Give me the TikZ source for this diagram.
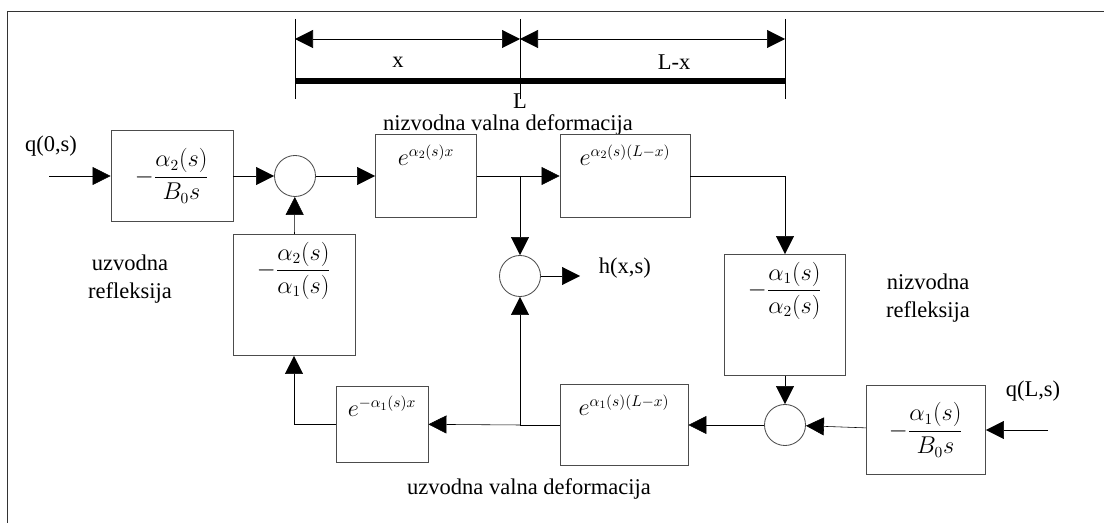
\documentclass[tikz,border=0pt]{standalone}
\usepackage{amsmath}
\usepackage{fontspec}
\setmainfont{Liberation Serif}
\usetikzlibrary{arrows.meta,positioning}

\begin{document}
\begin{tikzpicture}[x=.025cm,y=-.025cm,>={Triangle[length=.45cm,width=.45cm]},
  every node/.style={font=\fontsize{16}{20}\selectfont},
  blk/.style={draw=black!70,semithick,inner sep=0pt},
  sum/.style={draw=black!70,semithick,circle,minimum size=1.025cm,inner sep=0pt}]
\useasboundingbox(0,0)rectangle(1104,523);
\draw[black!80](7,540)|-(1120,11);
% length of the channel
\coordinate(d0)at(295,19);\coordinate(d1)at(520,19);\coordinate(d2)at(785,19);
\foreach \d in {d0,d1,d2}\draw(\d)--++(0,80);
\draw[<->](295,39)--(520,39);\draw[<->](520,39)--(785,39);
\draw[line width=4pt](295,81)--(785,81);
\node(lx)at(398,62){x};\node(llx)at(674,62){L-x};\node[inner sep=0pt](ll)at(520,101){L};
\node[inner sep=0pt](nvd)at(508,125){nizvodna valna deformacija};
% upper row
\node[blk,minimum width=3.05cm,minimum height=2.275cm](b1)at(172,176){$-\dfrac{\alpha_2(s)}{B_0s}$};
\node(q0t)at(51,146){q(0,s)};\coordinate(q0)at(49,176);
\node[sum](s1)at(295,176){};
\node[blk,minimum width=2.525cm,minimum height=2.075cm](b2)at(426,176){};
\node[below=4pt of b2.north](b2t){$e^{\alpha_2(s)x}$};
\coordinate(br1)at(520,176);
\node[blk,minimum width=3.25cm,minimum height=2.075cm](b3)at(625,176){};
\node[below=4pt of b3.north](b3t){$e^{\alpha_2(s)(L-x)}$};
% reflections
\node[blk,minimum width=3.05cm,minimum height=3.025cm](b4)at(294,295){};
\node[below=2pt of b4.north](b4t){$-\dfrac{\alpha_2(s)}{\alpha_1(s)}$};
\node[align=center](ur)at(130,279){uzvodna\\refleksija};
\node[blk,minimum width=3.025cm,minimum height=3.025cm](b7)at(785,315){};
\node[below=2pt of b7.north](b7t){$-\dfrac{\alpha_1(s)}{\alpha_2(s)}$};
\node[align=center](nr)at(928,298){nizvodna\\refleksija};
\node[sum](s2)at(520,276){};\coordinate(h)at(580,276);
\node[anchor=west](ht)at(594,268){h(x,s)};
% lower row
\node[sum](s3)at(785,425){};
\node[blk,minimum width=2.975cm,minimum height=2.225cm](b8)at(926,430){$-\dfrac{\alpha_1(s)}{B_0s}$};
\node(qlt)at(1033,391){q(L,s)};\coordinate(ql)at(1048,430);
\node[blk,minimum width=3.2cm,minimum height=2.025cm](b6)at(624,425){};
\node[below=4pt of b6.north](b6t){$e^{\alpha_1(s)(L-x)}$};
\coordinate(br2)at(520,425);
\node[blk,minimum width=2.3cm,minimum height=1.9cm](b5)at(382,424){};
\node[below=4pt of b5.north](b5t){$e^{-\alpha_1(s)x}$};
\node(uvd)at(529,489){uzvodna valna deformacija};
% signal flow
\draw[->](q0)--(b1);\draw[->](b1)--(s1);\draw[->](s1)--(b2);
\draw(b2)--(br1);\draw[->](br1)--(b3);\draw[->](br1)--(s2);\draw[->](s2)--(h);
\draw[->](b3)-|(b7);\draw[->](b7)--(s3);
\draw[->](ql)--(b8);\draw[->](b8)--(s3);\draw[->](s3)--(b6);
\draw(b6)--(br2);\draw[->](br2)--(b5);\draw[->](br2)--(s2);
\draw[->](b5)-|(b4);\draw[->](b4)--(s1);
\end{tikzpicture}
\end{document}
